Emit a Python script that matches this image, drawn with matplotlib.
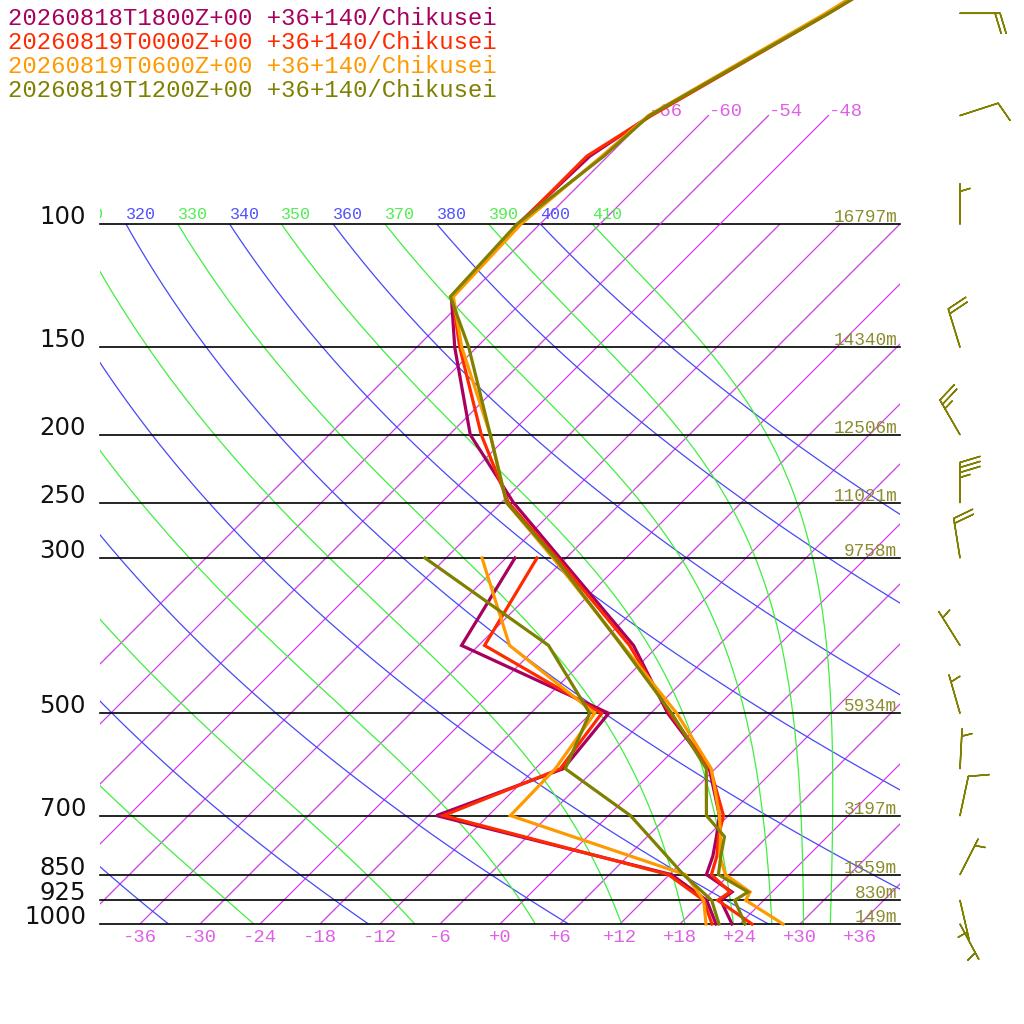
import numpy as np
import matplotlib.pyplot as plt
from matplotlib.transforms import Bbox, TransformedBbox

# four model runs at +36+140 (Chikusei)
run_labels = ["20260818T1800Z+00 +36+140/Chikusei",
              "20260819T0000Z+00 +36+140/Chikusei",
              "20260819T0600Z+00 +36+140/Chikusei",
              "20260819T1200Z+00 +36+140/Chikusei"]
run_colors = ["#A8005F", "#FF2A00", "#FF9900", "#808000"]

# temperature profiles (degC)
p_temp = [1000, 925, 900, 850, 800, 750, 700, 600, 500, 400, 300, 250, 200, 150, 127, 100, 80, 70, 50, 30]
t_1800 = [23.2, 19.7, 20.0, 15.7, 14.5, 12.9, 11.1, 5.4, -4.3, -14.5, -30.6, -40.8, -51.9, -62.2, -67.6, -68.2, -67.8, -65.8, -58.3, -48.0]
t_0000 = [25.2, 19.4, 19.8, 16.2, 14.9, 13.1, 11.5, 5.5, -4.1, -14.9, -30.9, -41.3, -50.8, -61.7, -67.5, -68.1, -68.1, -65.7, -58.2, -48.0]
t_0600 = [28.3, 22.2, 21.8, 17.6, 15.2, 13.3, 11.1, 5.6, -3.4, -15.6, -31.3, -41.5, -49.9, -61.5, -67.4, -67.9, -66.6, -66.0, -58.5, -49.0]
t_1200 = [24.5, 21.1, 21.6, 16.9, 15.3, 13.7, 9.8, 5.1, -3.9, -15.7, -31.1, -41.5, -49.9, -60.8, -67.7, -68.3, -66.4, -65.9, -58.2, -48.0]

# dew point profiles (degC)
p_dew = [1000, 925, 850, 700, 600, 500, 400, 300]
td_1800 = [21.6, 18.3, 12.2, -17.2, -9.2, -10.2, -31.7, -35.1]
td_0000 = [21.2, 18.0, 11.9, -16.5, -9.5, -10.9, -29.4, -32.9]
td_0600 = [20.6, 18.0, 13.6, -9.8, -10.0, -11.6, -26.9, -38.4]
td_1200 = [21.9, 18.8, 13.4, 2.2, -9.0, -12.1, -23.0, -44.1]

# wind of the last run (direction deg, speed kt)
p_wind = [1000, 925, 850, 700, 600, 500, 400, 300, 250, 200, 150, 100, 70, 50]
wdir = [152, 167, 27, 12, 3, 344, 328, 351, 0, 330, 343, 0, 72, 90]
wspd = [5, 5, 5, 10, 5, 5, 5, 20, 35, 25, 20, 5, 10, 20]

# standard levels and geopotential heights
p_std = [1000, 925, 850, 700, 500, 300, 250, 200, 150, 100]
heights = [149, 830, 1559, 3197, 5934, 9758, 11021, 12506, 14340, 16797]

iso_t = np.arange(-66, 37, 6)
iso_top = [-66, -60, -54, -48]
theta_dry = np.arange(240, 401, 20)
theta_moist = np.arange(190, 411, 20)
theta_labels = np.arange(310, 411, 10)

KAPPA = 0.2857
MONO = "Liberation Mono"


def skew(t, p):
    return np.asarray(t, float) + 70.0 * np.log10(1000.0 / np.asarray(p, float))


def moist_adiabats(theta, lnp):
    Rd, Cp, Lv, eps = 287.04, 1005.7, 2.501e6, 0.622

    def rate(lp, tk):
        p = np.exp(lp)
        tc = tk - 273.15
        es = 6.112 * np.exp(17.67 * tc / (tc + 243.5))
        rs = eps * es / (p - es)
        return (Rd * tk + Lv * rs) / (Cp + Lv * Lv * rs * eps / (Rd * tk * tk))

    tk = theta * 0.1 ** KAPPA
    out = [tk]
    for i in range(len(lnp) - 1):
        h = lnp[i + 1] - lnp[i]
        k1 = rate(lnp[i], tk)
        k2 = rate(lnp[i] + h / 2, tk + h / 2 * k1)
        k3 = rate(lnp[i] + h / 2, tk + h / 2 * k2)
        k4 = rate(lnp[i] + h, tk + h * k3)
        tk = tk + h / 6 * (k1 + 2 * k2 + 2 * k3 + k4)
        out.append(tk)
    return np.array(out)


fig = plt.figure(figsize=(10.24, 10.24), dpi=100)

# diagram box (100..1000 hPa)
axb = fig.add_axes([100 / 1024, 100 / 1024, 800 / 1024, 700 / 1024])
axb.set_yscale("log")
axb.set_xlim(-40, 40)
axb.set_ylim(1000, 100)
axb.axis("off")

# full-figure overlay with the same scales
ax = fig.add_axes([0, 0, 1, 1])
ax.set_yscale("log")
ax.set_xlim(-50, 52.4)
ax.set_ylim(1000 * 10 ** (100 / 700), 1000 * 10 ** (-924 / 700))
ax.axis("off")
ax.patch.set_visible(False)

pp = np.geomspace(100, 1000, 120)
ISO_C = "#D040E6"

# isotherms
for t in iso_t:
    axb.plot(skew(np.full_like(pp, t), pp), pp, color=ISO_C, lw=0.9)
pup = np.geomspace(70, 100, 20)
for t in iso_top:
    ax.plot(skew(np.full_like(pup, t), pup), pup, color=ISO_C, lw=0.9, zorder=1)
    ax.annotate(f"{t:d}", (skew(t, 70), 70), xytext=(0, 0),
                textcoords="offset points", ha="left", va="baseline",
                color="#DD60E6", fontsize=13.6, family=MONO, zorder=1)

# dry adiabats
for th in theta_dry:
    t = th * (pp / 1000) ** KAPPA - 273.15
    axb.plot(skew(t, pp), pp, color="#4848F8", lw=0.9)

# moist adiabats
lnp = np.linspace(np.log(100), np.log(1000), 400)
tm = moist_adiabats(theta_moist.astype(float), lnp) - 273.15
pm = np.exp(lnp)
for j in range(len(theta_moist)):
    axb.plot(skew(tm[:, j], pm), pm, color="#40EE40", lw=0.9)

# theta labels along 100 hPa, clipped at the left edge of the box
left_clip = TransformedBbox(Bbox.from_extents(100 / 1024, 0, 1, 1), fig.transFigure)
p_lab = 100 * 10 ** (-5 / 700)
for th in theta_labels:
    col = "#5050FF" if th % 20 == 0 else "#50EE50"
    x0 = skew(th * 0.1 ** KAPPA - 273.15, 100)
    txt = ax.text(x0, p_lab, str(th), ha="left", va="baseline", color=col,
                  fontsize=12, family=MONO, zorder=1)
    txt.set_clip_path(None)
    txt.set_clip_box(left_clip)
    txt.set_clip_on(True)

# pressure lines
for p in p_std:
    axb.plot([-40, 40], [p, p], color="#000000", lw=1.2, clip_on=False)
    ax.text(-41.4, p, str(p), ha="right", va="baseline", fontsize=17.6,
            family="DejaVu Sans", color="#111111")

for p, h in zip(p_std, heights):
    ax.annotate(f"{h}m", (39.7, p), xytext=(0, 1.4), textcoords="offset points",
                ha="right", va="baseline", color="#8C8C2E", fontsize=12.8, family=MONO)

# temperature labels under the box
for t in range(-36, 37, 6):
    ax.annotate(f"{t:+d}", (t, 1000), xytext=(0, -9.5), textcoords="offset points",
                ha="center", va="center", color="#DD60E6", fontsize=13.6, family=MONO)

# soundings
temps = [t_1800, t_0000, t_0600, t_1200]
dews = [td_1800, td_0000, td_0600, td_1200]
for t, td, c in zip(temps, dews, run_colors):
    ax.plot(skew(td, p_dew), p_dew, color=c, lw=2.3, zorder=5, solid_joinstyle="miter")
    ax.plot(skew(t, p_temp), p_temp, color=c, lw=2.3, zorder=5, solid_joinstyle="miter")

# legend lines
for i, (lab, c) in enumerate(zip(run_labels, run_colors)):
    fig.text(8 / 1024, 1 - (25 + 24 * i) / 1024, lab, color=c, fontsize=17.2,
             family=MONO, va="baseline", ha="left")

# wind barbs of the last run
wd = np.radians(wdir)
u = -np.array(wspd) * np.sin(wd)
v = -np.array(wspd) * np.cos(wd)
ax.barbs(np.full(len(p_wind), 46.0), p_wind, u, v, length=7.6, pivot="tip",
         sizes=dict(spacing=0.125, height=0.5, width=0.3),
         color="#808000", linewidth=1.1, zorder=6)

fig.savefig("out.png", dpi=100)
